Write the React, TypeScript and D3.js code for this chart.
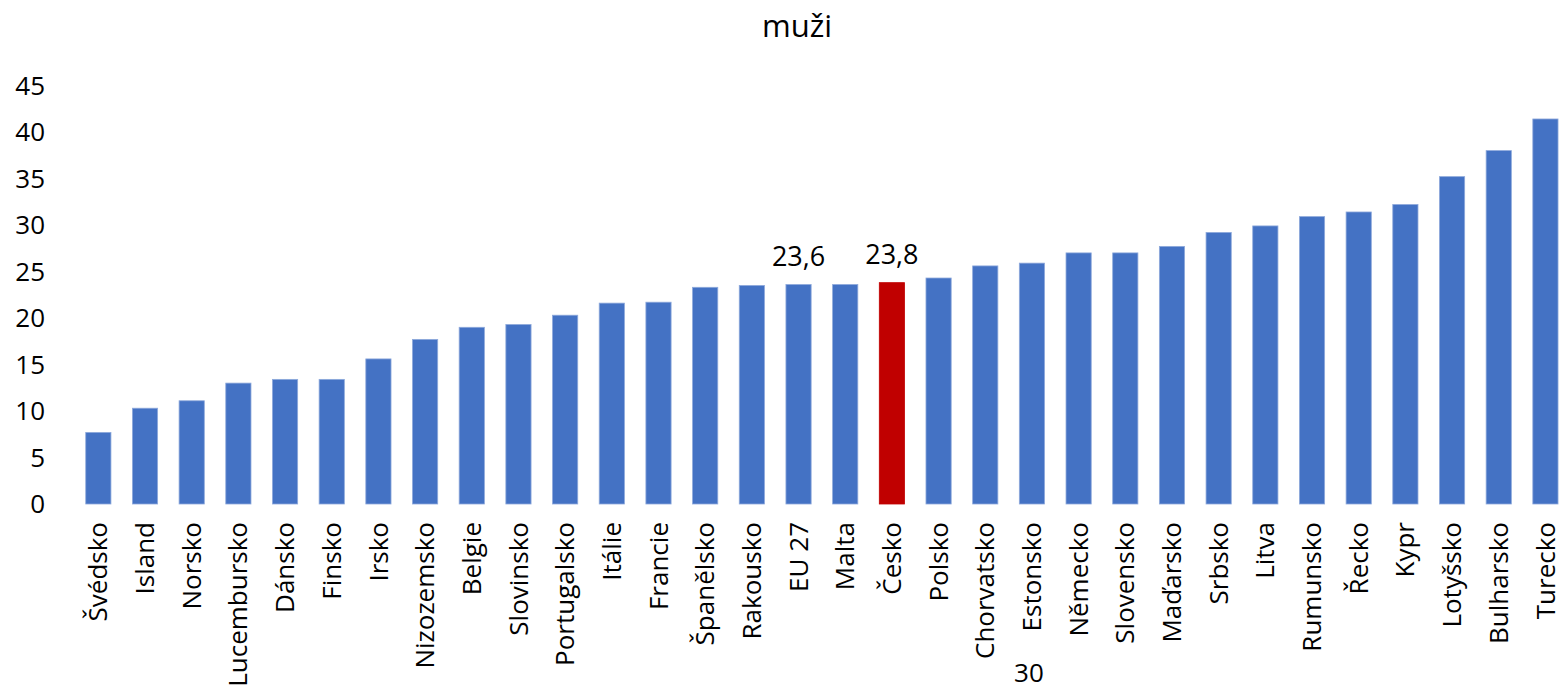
import React, { useEffect, useRef } from 'react';
import * as d3 from 'd3';

const categories = [
  'Švédsko', 'Island', 'Norsko', 'Lucembursko', 'Dánsko', 'Finsko', 'Irsko', 'Nizozemsko',
  'Belgie', 'Slovinsko', 'Portugalsko', 'Itálie', 'Francie', 'Španělsko', 'Rakousko', 'EU 27',
  'Malta', 'Česko', 'Polsko', 'Chorvatsko', 'Estonsko\n30', 'Německo', 'Slovensko', 'Maďarsko',
  'Srbsko', 'Litva', 'Rumunsko', 'Řecko', 'Kypr', 'Lotyšsko', 'Bulharsko', 'Turecko'
];
const values = [
  7.7, 10.3, 11.1, 13.0, 13.4, 13.4, 15.6, 17.7,
  19.0, 19.3, 20.3, 21.6, 21.7, 23.3, 23.5, 23.6,
  23.6, 23.8, 24.3, 25.6, 25.9, 27.0, 27.0, 27.7,
  29.2, 29.9, 30.9, 31.4, 32.2, 35.2, 38.0, 41.4
];
const yTicks = [0, 5, 10, 15, 20, 25, 30, 35, 40, 45];
const labelled = ['EU 27', 'Česko'];
const highlight = 'Česko';

const W = 1562, H = 697;
const FONT = '"Open Sans", sans-serif';

export default function App() {
  const ref = useRef<SVGSVGElement>(null);

  useEffect(() => {
    document.body.style.margin = '0';
    const svg = d3.select(ref.current);
    svg.selectAll('*').remove();

    const data = categories.map((c, i) => ({ key: c, value: values[i] }));

    const x = d3.scaleBand()
      .domain(categories)
      .range([75, 75 + 32 * 46.68])
      .paddingInner(0.46)
      .paddingOuter(0.23);

    const y = d3.scaleLinear().domain([0, 45]).range([504, 85.5]);

    // title
    svg.append('text')
      .attr('x', 797).attr('y', 37)
      .attr('text-anchor', 'middle')
      .attr('font-family', FONT).attr('font-size', 31)
      .text('muži');

    // y axis labels
    svg.append('g').selectAll('text')
      .data(yTicks).enter().append('text')
      .attr('x', 45).attr('y', d => y(d))
      .attr('dy', '0.35em')
      .attr('text-anchor', 'end')
      .attr('font-family', FONT).attr('font-size', 26)
      .text(d => d);

    // bars
    svg.append('g').selectAll('rect')
      .data(data).enter().append('rect')
      .attr('x', d => x(d.key)!)
      .attr('y', d => y(d.value))
      .attr('width', x.bandwidth())
      .attr('height', d => y(0) - y(d.value))
      .attr('fill', d => d.key === highlight ? '#C00000' : '#4472C4')
      .attr('stroke', d => d.key === highlight ? '#C00000' : '#8EA9DB')
      .attr('stroke-width', 0.8);

    // value labels
    svg.append('g').selectAll('text')
      .data(data.filter(d => labelled.includes(d.key))).enter().append('text')
      .attr('x', d => x(d.key)! + x.bandwidth() / 2)
      .attr('y', d => y(d.value) - 19)
      .attr('text-anchor', 'middle')
      .attr('font-family', FONT).attr('font-size', 27)
      .text(d => d3.format('.1f')(d.value).replace('.', ','));

    // category labels
    const g = svg.append('g');
    data.forEach(d => {
      const cx = x(d.key)! + x.bandwidth() / 2;
      const [first, second] = d.key.split('\n');
      g.append('text')
        .attr('transform', `translate(${cx},522) rotate(-90)`)
        .attr('dy', '0.35em')
        .attr('text-anchor', 'end')
        .attr('font-family', FONT).attr('font-size', 26)
        .text(first);
      if (second) {
        g.append('text')
          .attr('x', cx - 3).attr('y', 682)
          .attr('text-anchor', 'middle')
          .attr('font-family', FONT).attr('font-size', 26)
          .text(second);
      }
    });
  }, []);

  return <svg ref={ref} width={W} height={H} style={{ display: 'block', background: '#fff' }} />;
}
